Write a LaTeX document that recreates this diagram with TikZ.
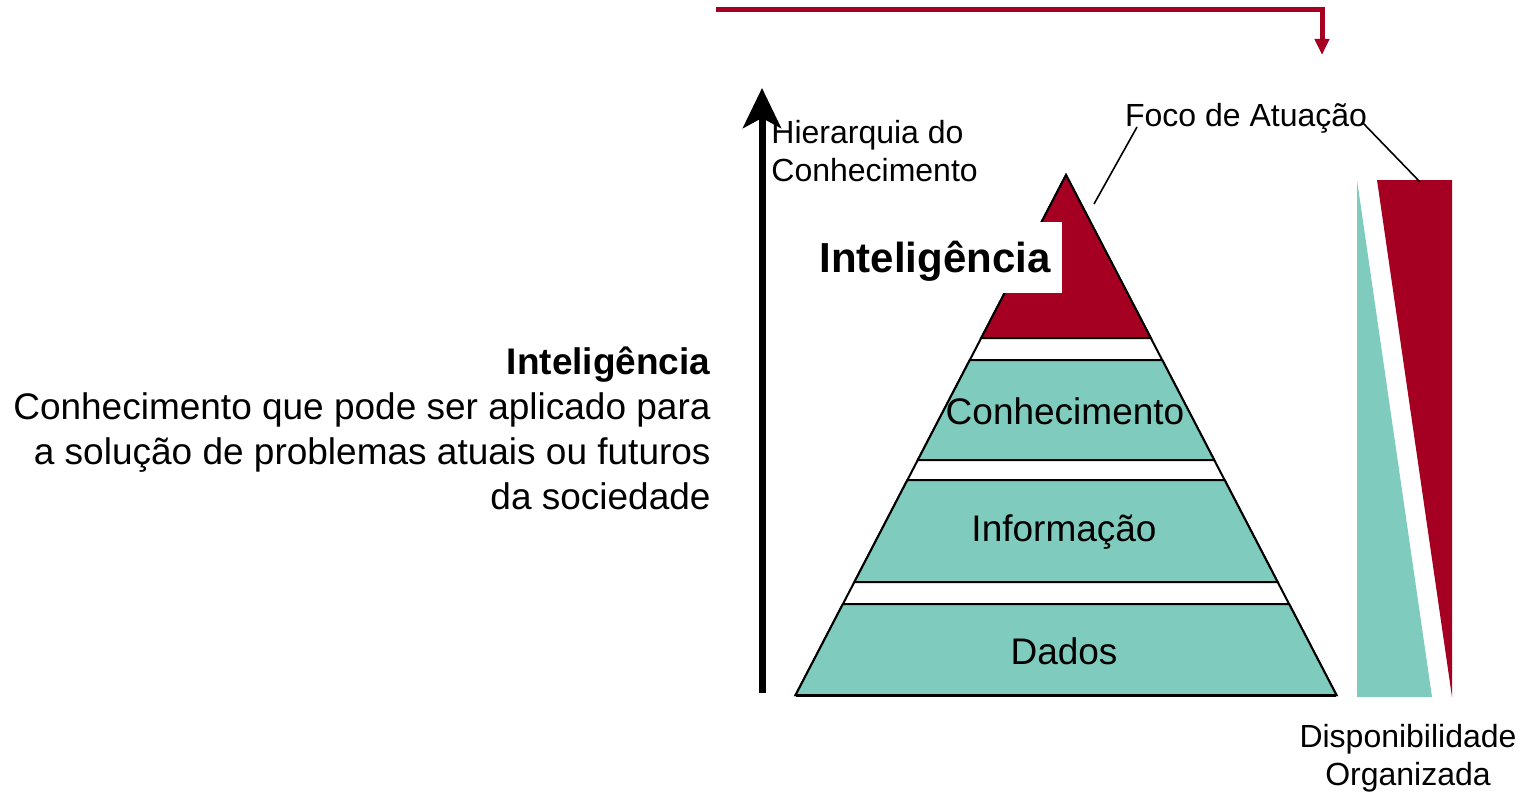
\documentclass[tikz,border=0pt]{standalone}
\usepackage{fontspec}
\setmainfont{Liberation Sans}
\usetikzlibrary{arrows.meta}

\definecolor{vinho}{RGB}{165,0,33}
\definecolor{verdeagua}{RGB}{127,204,190}

\tikzset{
  camada/.style={fill=verdeagua, draw=black, line width=1pt},
  topo/.style={fill=vinho, draw=black, line width=1pt},
  rotulo/.style={inner sep=0pt, font=\fontsize{18.5}{22}\selectfont},
  legenda/.style={inner sep=0pt, font=\fontsize{16}{19}\selectfont},
  guia/.style={draw=black, line width=0.8pt}
}

\begin{document}
\begin{tikzpicture}[x=0.5pt,y=-0.5pt]
   \useasboundingbox (0,0) rectangle (1520,792);

   \coordinate (SetaIni) at (716,10);
   \coordinate (SetaFim) at (1322,55);
   \coordinate (EixoBase) at (762,693);
   \coordinate (EixoTopo) at (762,88);
   \coordinate (FocoEsq) at (1137,127);
   \coordinate (PontaTopo) at (1094,204);
   \coordinate (FocoDir) at (1362,122);
   \coordinate (PontaBarra) at (1420,182);

   % piramide
   \draw [fill=white, draw=black, line width=1pt] (1066,175) -- (1336.4,695) -- (795.6,695) -- cycle;
   \draw [topo] (1066,175) -- (1150.8,338) -- (981.2,338) -- cycle;
   \draw [camada] (969.8,360) -- (1162.2,360) -- (1214.2,460) -- (917.8,460) -- cycle;
   \draw [camada] (907.4,480) -- (1224.6,480) -- (1277.6,582) -- (854.4,582) -- cycle;
   \draw [camada] (842.9,604) -- (1289.1,604) -- (1336.4,695) -- (795.6,695) -- cycle;
   \draw [line width=1.5pt] (795.6,695) -- (1336.4,695);

   \fill [white] (810,222) rectangle (1062,293);
   \node (Inteligencia) at (935,261) [inner sep=0pt, font=\bfseries\fontsize{21}{25}\selectfont] {Inteligência};
   \node (Conhecimento) at (1065,411) [rotulo] {Conhecimento};
   \node (Informacao) at (1064,532) [rotulo] {Informação};
   \node (Dados) at (1064,651) [rotulo] {Dados};

   % barras
   \fill [verdeagua] (1357,180) -- (1432,697) -- (1357,697) -- cycle;
   \fill [vinho] (1377,180) -- (1452,180) -- (1452,697) -- cycle;

   \node (Foco) at (1246,118) [legenda] {Foco de Atuação};
   \node (Hierarquia) at (771,151) [legenda, anchor=west, align=left] {Hierarquia do\\Conhecimento};
   \node (Disponibilidade) at (1408,758) [legenda, align=center] {Disponibilidade\\Organizada};

   \node (Definicao) at (711,428) [anchor=east, align=right, inner sep=0pt, font=\fontsize{18.5}{22.5}\selectfont] {\textbf{Inteligência}\\Conhecimento que pode ser aplicado para\\a solução de problemas atuais ou futuros\\da sociedade};

   \draw [guia] (FocoEsq) -- (PontaTopo);
   \draw [guia] (FocoDir) -- (PontaBarra);

   \draw [line width=3.5pt, -{Stealth[length=20pt,width=19pt,inset=5pt]}] (EixoBase) -- (EixoTopo);
   \draw [vinho, line width=2.5pt, -{Triangle[length=8pt,width=7pt]}] (SetaIni) -| (SetaFim);

\end{tikzpicture}
\end{document}
